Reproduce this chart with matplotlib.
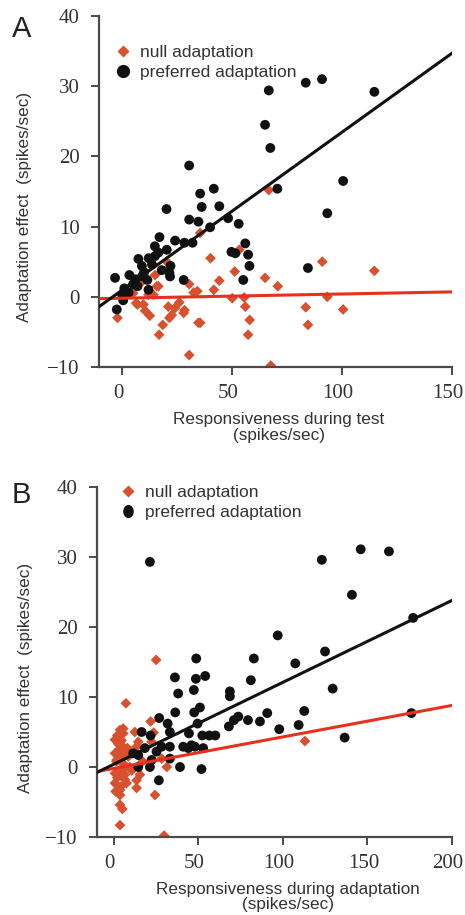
import matplotlib
matplotlib.use("Agg")
import matplotlib.pyplot as plt
import matplotlib.transforms as mtransforms
import numpy as np
from matplotlib.path import Path
from matplotlib.lines import Line2D

# ---------------- Data ----------------
# Panel A: responsiveness during test vs adaptation effect
a_null_x = [66.7, -2.1, 30.5, 67.6, 16.8, 18.5, 12.6, 10.5, 7.0, 21.5, 21.0, 24.0, 28.0, 28.4,
            34.7, 35.5, 57.3, 58.0, 56.0, 55.5, 50.1, 83.5, 84.5, 93.3, 100.5, 114.7, 91.0,
            65.0, 70.8, 51.2, 53.3, 40.2, 44.2, 41.7, 34.2, 32.5, 30.5, 35.5, 20.3, 16.5,
            15.8, 14.2, 6.4, 9.7, 22.6, 15.0, 8.2, 12.0, 5.0, 26.0]
a_null_y = [15.2, -3.0, -8.3, -9.8, -5.4, -4.0, -2.7, -2.0, -1.1, -3.0, -1.4, -1.6, -2.3, -1.9,
            -3.7, -3.7, -5.4, -3.3, -1.4, -0.1, -0.2, -1.5, -4.0, 0.0, -1.8, 3.7, 5.0,
            2.7, 1.5, 3.6, 6.7, 5.5, 2.3, 1.0, 0.8, 0.6, 1.8, 9.1, 5.0, 1.5,
            1.5, 0.3, -0.9, -1.1, -2.6, 3.1, 1.9, 0.3, 0.5, -0.8]
a_pref_x = [66.7, 83.5, 90.9, 114.7, 65.0, 67.4, 30.5, 41.7, 35.5, 70.6, 100.5, 20.2, 36.2, 44.2,
            93.3, 30.5, 34.7, 48.2, 53.0, 40.0, 17.0, 24.1, 28.3, 32.0, 14.9, 20.3, 56.0, 49.7,
            51.5, 57.3, 57.9, 55.1, 84.5, 7.4, 12.1, 13.6, 18.0, 22.0, 21.5, 10.0, 9.0, 3.3,
            -3.2, 28.0, 1.0, 5.0, 3.0, 0.0, -2.4, 21.8, 9.0, 11.5, 0.5, 15.0, 16.5, 6.0, 7.0, 12.0]
a_pref_y = [29.4, 30.5, 31.0, 29.2, 24.5, 21.2, 18.7, 15.4, 14.7, 15.4, 16.5, 12.5, 12.8, 12.9,
            11.9, 11.0, 10.7, 11.2, 10.4, 9.9, 8.5, 8.0, 7.7, 7.7, 7.2, 6.7, 7.6, 6.4,
            6.2, 6.0, 4.4, 2.4, 4.1, 5.4, 5.5, 4.6, 3.8, 4.4, 3.4, 3.5, 4.4, 3.1,
            2.7, 2.4, 1.2, 1.8, 0.6, 0.3, -1.8, 2.9, 2.9, 2.4, -0.5, 5.8, 6.3, 2.5, 1.5, 1.0]

# Panel B: responsiveness during adaptation vs adaptation effect
b_null_x = [25.0, 7.1, 21.7, 5.5, 5.5, 12.4, 23.5, 14.4, 5.5, 2.6, 0.6, 4.5, 7.5, 1.6, 5.5, 9.5,
            3.6, 0.6, 6.5, 15.4, 13.4, 0.6, 7.5, 3.6, 13.4, 3.6, 3.6, 24.3, 31.3, 28.3, 22.3,
            3.6, 29.7, 113.0, 3.6, 0.6, 13.4, 2.0, 4.0, 6.0, 1.5, 8.5, 2.5, 5.0, 10.5, 17.0,
            2.0, 4.5, 6.5, 1.0, 3.0, 8.0]
b_null_y = [15.3, 9.1, 6.5, 5.5, 4.8, 5.0, 4.9, 3.6, 2.9, 2.4, 1.95, 1.5, 2.2, 1.0, 0.5, 0.0,
            -0.5, -0.9, -1.1, -1.1, -1.9, -2.3, -2.3, -3.3, -3.0, -4.0, -5.4, -4.0, 0.0, 1.2, 3.6,
            -8.3, -9.8, 3.7, 5.3, 3.9, 2.9, -1.5, -2.8, -0.2, 0.8, 1.5, 3.3, -6.0, -0.5, 0.8,
            4.5, 3.8, -1.8, -3.5, -1.2, 2.7]
b_pref_x = [21.3, 123.0, 146.0, 162.7, 140.8, 177.0, 96.9, 124.9, 48.7, 82.8, 107.3, 36.1, 48.5,
            54.0, 81.0, 129.4, 38.0, 47.3, 68.6, 68.6, 50.9, 47.5, 36.3, 26.8, 31.8, 16.4, 21.7,
            33.1, 44.4, 49.5, 52.3, 56.4, 60.0, 73.6, 71.0, 68.0, 79.3, 86.4, 90.7, 97.8, 109.3,
            112.6, 136.5, 176.0, 11.4, 14.4, 18.3, 22.3, 25.2, 28.2, 33.1, 33.1, 41.0, 44.0,
            45.9, 47.9, 52.8, 14.4, 21.3, 39.1, 51.8, 26.6]
b_pref_y = [29.3, 29.6, 31.1, 30.8, 24.6, 21.3, 18.8, 16.5, 15.5, 15.5, 14.8, 12.8, 12.6,
            13.0, 12.4, 11.2, 10.5, 11.0, 10.8, 10.1, 8.5, 7.8, 7.8, 7.0, 6.2, 5.0, 4.5,
            5.0, 4.8, 6.2, 4.5, 4.5, 4.5, 7.2, 6.7, 5.8, 6.7, 6.5, 7.7, 5.4, 6.0,
            8.0, 4.2, 7.7, 1.95, 1.7, 2.7, 1.0, 2.2, 2.9, 2.9, 1.2, 2.9, 2.7,
            3.1, 2.9, 2.7, 0.0, 0.0, 0.0, -0.3, -1.9]

# Regression fits (intercept, slope)
a_null_fit = (-0.2, 0.006)
a_pref_fit = (0.95, 0.225)
b_null_fit = (-0.2, 0.045)
b_pref_fit = (0.4, 0.117)

y_ticks = [-10, 0, 10, 20, 30, 40]
a_x_ticks = [0, 50, 100, 150]
b_x_ticks = [0, 50, 100, 150, 200]
legend_labels = ["null adaptation", "preferred adaptation"]

# ---------------- Styling ----------------
RED = "#d9502e"
RED_LINE = "#e8301f"
BLACK = "#111111"
AXC = "#4a4a4a"
TXT = "#333333"
SERIF = ["Liberation Serif", "DejaVu Serif"]
SANS = ["Liberation Sans", "DejaVu Sans"]

fig = plt.figure(figsize=(4.65, 9.15), dpi=100)
axA = fig.add_axes([99/465, 1-367/915, (452-99)/465, (367-16)/915])
axB = fig.add_axes([97/465, 1-837/915, (452-97)/465, (837-487)/915])

ell = Path.unit_circle()
ell = Path(ell.vertices * np.array([0.8, 1.0]), ell.codes)

shift_left = mtransforms.ScaledTranslation(-4/100, 0, fig.dpi_scale_trans)


def style(ax, xlim, xticks, xlabel, xlab_x, ylab_x):
    ax.set_xlim(*xlim)
    ax.set_ylim(-10, 40)
    ax.set_xticks(xticks)
    ax.set_yticks(y_ticks)
    for s in ["top", "right"]:
        ax.spines[s].set_visible(False)
    for s in ["left", "bottom"]:
        ax.spines[s].set_color(AXC)
        ax.spines[s].set_linewidth(1.6)
    ax.tick_params(direction="out", length=6, width=1.4, color=AXC,
                   labelsize=15, labelcolor=TXT)
    ax.tick_params(axis="x", pad=6)
    ax.tick_params(axis="y", pad=8)
    for lab in ax.get_xticklabels() + ax.get_yticklabels():
        lab.set_family(SERIF)
    for lab in ax.get_xticklabels():
        lab.set_transform(lab.get_transform() + shift_left)
    ax.set_xlabel(xlabel, family=SANS, fontsize=12.3, color=TXT, linespacing=1.05)
    ax.xaxis.set_label_coords(xlab_x, -0.128)
    ax.set_ylabel("Adaptation effect  (spikes/sec)", family=SANS, fontsize=12.3,
                  color=TXT)
    ax.yaxis.set_label_coords(ylab_x, 0.455)


def panel(ax, nx, ny, px, py, nfit, pfit, xlim, legend_marker, leg_anchor):
    ax.scatter(nx, ny, marker="D", s=30, color=RED, edgecolors="none", zorder=2)
    ax.scatter(px, py, marker="o", s=50, color=BLACK, edgecolors="none", zorder=3)
    xx = np.array(xlim, dtype=float)
    ax.plot(xx, nfit[0] + nfit[1] * xx, color=RED_LINE, lw=2.2, zorder=4)
    ax.plot(xx, pfit[0] + pfit[1] * xx, color=BLACK, lw=2.2, zorder=4)
    handles = [Line2D([], [], marker="D", ls="none", color=RED, markersize=5.8, mec="none"),
               Line2D([], [], marker=legend_marker, ls="none", color=BLACK, markersize=9.5, mec="none")]
    leg = ax.legend(handles, legend_labels, loc="upper left", bbox_to_anchor=leg_anchor,
                    frameon=False, handletextpad=0.25, borderaxespad=0.0, borderpad=0.0,
                    labelspacing=0.25, prop={"family": SANS, "size": 12.5}, handlelength=1.5)
    for t in leg.get_texts():
        t.set_color(TXT)


panel(axA, a_null_x, a_null_y, a_pref_x, a_pref_y, a_null_fit, a_pref_fit, (-10.5, 150), "o",
      (0.03, 0.917))
style(axA, (-10.5, 150), a_x_ticks, "Responsiveness during test\n(spikes/sec)", 0.51, -0.19)
panel(axB, b_null_x, b_null_y, b_pref_x, b_pref_y, b_null_fit, b_pref_fit, (-10, 200), ell,
      (0.05, 1.005))
style(axB, (-10, 200), b_x_ticks, "Responsiveness during adaptation\n(spikes/sec)", 0.538, -0.18)

fig.text(12/465, 1-29/915, "A", family=SANS, fontsize=21, color="#222222", va="center")
fig.text(12/465, 1-495/915, "B", family=SANS, fontsize=21, color="#222222", va="center")

fig.savefig("out.png", dpi=100)
